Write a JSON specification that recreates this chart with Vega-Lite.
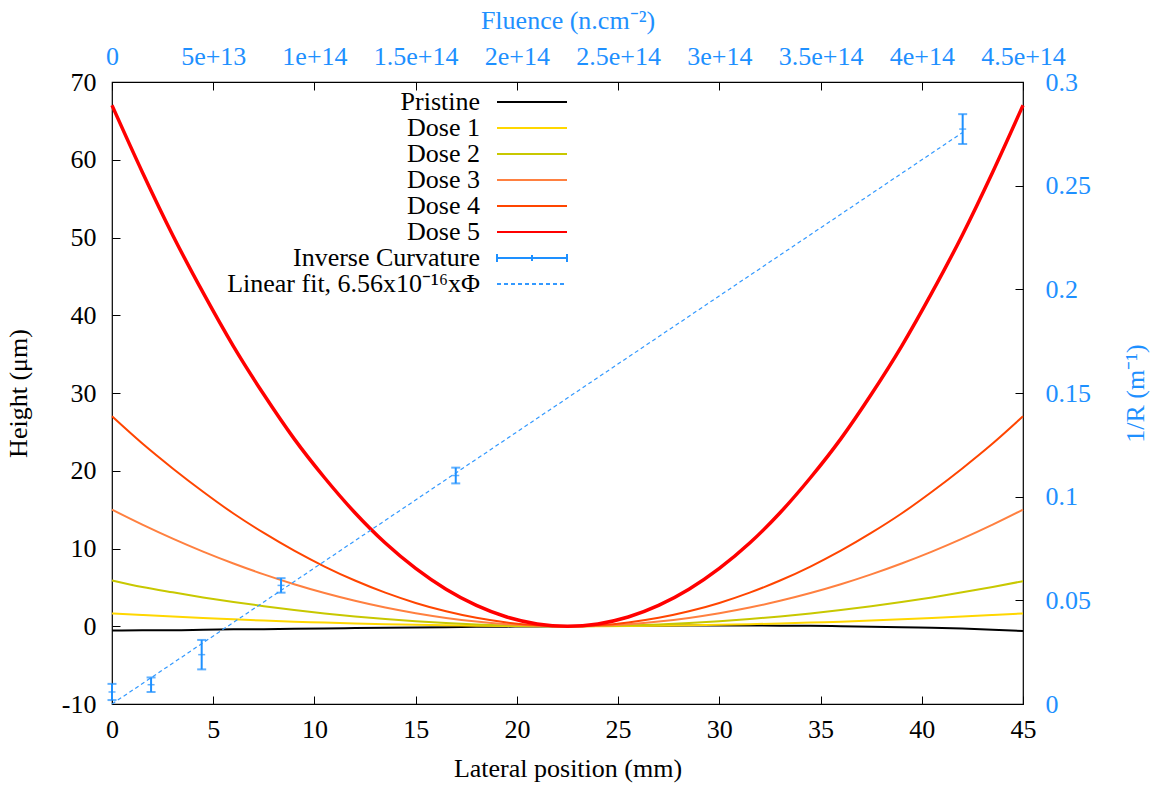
{
  "$schema": "https://vega.github.io/schema/vega-lite/v6.json",
  "width": 911,
  "height": 622,
  "autosize": "none",
  "padding": {"left": 112, "top": 82, "right": 140, "bottom": 83},
  "background": "white",
  "config": {
    "view": {"stroke": "black", "strokeWidth": 1.2},
    "font": "Liberation Serif",
    "axis": {
      "grid": false, "domain": false, "tickColor": "black", "tickSize": -8, "tickWidth": 1, "labelOverlap": false, "labelFlush": false,
      "labelFont": "Liberation Serif", "labelFontSize": 26, "titleFont": "Liberation Serif",
      "titleFontSize": 26, "titleFontWeight": "normal", "labelColor": "black", "titleColor": "black"
    }
  },
  "datasets": {
    "curves": [
      {"s":"Pristine","x":0,"h":-0.55},{"s":"Pristine","x":1.5,"h":-0.5},{"s":"Pristine","x":3,"h":-0.5},{"s":"Pristine","x":4.5,"h":-0.45},{"s":"Pristine","x":6,"h":-0.4},{"s":"Pristine","x":7.5,"h":-0.38},{"s":"Pristine","x":9,"h":-0.33},{"s":"Pristine","x":10.5,"h":-0.28},{"s":"Pristine","x":12,"h":-0.24},{"s":"Pristine","x":13.5,"h":-0.2},{"s":"Pristine","x":15,"h":-0.16},{"s":"Pristine","x":16.5,"h":-0.12},{"s":"Pristine","x":18,"h":-0.08},{"s":"Pristine","x":19.5,"h":-0.05},{"s":"Pristine","x":21,"h":-0.02},{"s":"Pristine","x":22.5,"h":0},{"s":"Pristine","x":24,"h":0.03},{"s":"Pristine","x":25.5,"h":0.05},{"s":"Pristine","x":27,"h":0.07},{"s":"Pristine","x":28.5,"h":0.09},{"s":"Pristine","x":30,"h":0.1},{"s":"Pristine","x":31.5,"h":0.1},{"s":"Pristine","x":33,"h":0.08},{"s":"Pristine","x":34.5,"h":0.05},{"s":"Pristine","x":36,"h":0.01},{"s":"Pristine","x":37.5,"h":-0.05},{"s":"Pristine","x":39,"h":-0.12},{"s":"Pristine","x":40.5,"h":-0.2},{"s":"Pristine","x":42,"h":-0.3},{"s":"Pristine","x":43.5,"h":-0.44},{"s":"Pristine","x":45,"h":-0.6},
      {"s":"Dose 1","x":0,"h":1.65},{"s":"Dose 1","x":1.5,"h":1.44},{"s":"Dose 1","x":3,"h":1.24},{"s":"Dose 1","x":4.5,"h":1.06},{"s":"Dose 1","x":6,"h":0.89},{"s":"Dose 1","x":7.5,"h":0.73},{"s":"Dose 1","x":9,"h":0.59},{"s":"Dose 1","x":10.5,"h":0.47},{"s":"Dose 1","x":12,"h":0.36},{"s":"Dose 1","x":13.5,"h":0.26},{"s":"Dose 1","x":15,"h":0.18},{"s":"Dose 1","x":16.5,"h":0.12},{"s":"Dose 1","x":18,"h":0.07},{"s":"Dose 1","x":19.5,"h":0.03},{"s":"Dose 1","x":21,"h":0.01},{"s":"Dose 1","x":22.5,"h":0},{"s":"Dose 1","x":24,"h":0.01},{"s":"Dose 1","x":25.5,"h":0.03},{"s":"Dose 1","x":27,"h":0.07},{"s":"Dose 1","x":28.5,"h":0.12},{"s":"Dose 1","x":30,"h":0.18},{"s":"Dose 1","x":31.5,"h":0.26},{"s":"Dose 1","x":33,"h":0.36},{"s":"Dose 1","x":34.5,"h":0.47},{"s":"Dose 1","x":36,"h":0.59},{"s":"Dose 1","x":37.5,"h":0.73},{"s":"Dose 1","x":39,"h":0.89},{"s":"Dose 1","x":40.5,"h":1.06},{"s":"Dose 1","x":42,"h":1.24},{"s":"Dose 1","x":43.5,"h":1.44},{"s":"Dose 1","x":45,"h":1.65},
      {"s":"Dose 2","x":0,"h":5.9},{"s":"Dose 2","x":1.5,"h":5.05},{"s":"Dose 2","x":3,"h":4.36},{"s":"Dose 2","x":4.5,"h":3.71},{"s":"Dose 2","x":6,"h":3.12},{"s":"Dose 2","x":7.5,"h":2.58},{"s":"Dose 2","x":9,"h":2.09},{"s":"Dose 2","x":10.5,"h":1.65},{"s":"Dose 2","x":12,"h":1.26},{"s":"Dose 2","x":13.5,"h":0.93},{"s":"Dose 2","x":15,"h":0.64},{"s":"Dose 2","x":16.5,"h":0.41},{"s":"Dose 2","x":18,"h":0.23},{"s":"Dose 2","x":19.5,"h":0.1},{"s":"Dose 2","x":21,"h":0.03},{"s":"Dose 2","x":22.5,"h":0},{"s":"Dose 2","x":24,"h":0.03},{"s":"Dose 2","x":25.5,"h":0.1},{"s":"Dose 2","x":27,"h":0.23},{"s":"Dose 2","x":28.5,"h":0.41},{"s":"Dose 2","x":30,"h":0.64},{"s":"Dose 2","x":31.5,"h":0.93},{"s":"Dose 2","x":33,"h":1.26},{"s":"Dose 2","x":34.5,"h":1.65},{"s":"Dose 2","x":36,"h":2.09},{"s":"Dose 2","x":37.5,"h":2.58},{"s":"Dose 2","x":39,"h":3.12},{"s":"Dose 2","x":40.5,"h":3.71},{"s":"Dose 2","x":42,"h":4.36},{"s":"Dose 2","x":43.5,"h":5.05},{"s":"Dose 2","x":45,"h":5.8},
      {"s":"Dose 3","x":0,"h":15},{"s":"Dose 3","x":1.5,"h":13.07},{"s":"Dose 3","x":3,"h":11.27},{"s":"Dose 3","x":4.5,"h":9.6},{"s":"Dose 3","x":6,"h":8.07},{"s":"Dose 3","x":7.5,"h":6.67},{"s":"Dose 3","x":9,"h":5.4},{"s":"Dose 3","x":10.5,"h":4.27},{"s":"Dose 3","x":12,"h":3.27},{"s":"Dose 3","x":13.5,"h":2.4},{"s":"Dose 3","x":15,"h":1.67},{"s":"Dose 3","x":16.5,"h":1.07},{"s":"Dose 3","x":18,"h":0.6},{"s":"Dose 3","x":19.5,"h":0.27},{"s":"Dose 3","x":21,"h":0.07},{"s":"Dose 3","x":22.5,"h":0},{"s":"Dose 3","x":24,"h":0.07},{"s":"Dose 3","x":25.5,"h":0.27},{"s":"Dose 3","x":27,"h":0.6},{"s":"Dose 3","x":28.5,"h":1.07},{"s":"Dose 3","x":30,"h":1.67},{"s":"Dose 3","x":31.5,"h":2.4},{"s":"Dose 3","x":33,"h":3.27},{"s":"Dose 3","x":34.5,"h":4.27},{"s":"Dose 3","x":36,"h":5.4},{"s":"Dose 3","x":37.5,"h":6.67},{"s":"Dose 3","x":39,"h":8.07},{"s":"Dose 3","x":40.5,"h":9.6},{"s":"Dose 3","x":42,"h":11.27},{"s":"Dose 3","x":43.5,"h":13.07},{"s":"Dose 3","x":45,"h":15},
      {"s":"Dose 4","x":0,"h":27},{"s":"Dose 4","x":1.5,"h":23.5},{"s":"Dose 4","x":3,"h":20.3},{"s":"Dose 4","x":4.5,"h":17.3},{"s":"Dose 4","x":6,"h":14.5},{"s":"Dose 4","x":7.5,"h":12},{"s":"Dose 4","x":9,"h":9.72},{"s":"Dose 4","x":10.5,"h":7.68},{"s":"Dose 4","x":12,"h":5.88},{"s":"Dose 4","x":13.5,"h":4.32},{"s":"Dose 4","x":15,"h":3},{"s":"Dose 4","x":16.5,"h":1.92},{"s":"Dose 4","x":18,"h":1.08},{"s":"Dose 4","x":19.5,"h":0.48},{"s":"Dose 4","x":21,"h":0.12},{"s":"Dose 4","x":22.5,"h":0},{"s":"Dose 4","x":24,"h":0.12},{"s":"Dose 4","x":25.5,"h":0.48},{"s":"Dose 4","x":27,"h":1.08},{"s":"Dose 4","x":28.5,"h":1.92},{"s":"Dose 4","x":30,"h":3},{"s":"Dose 4","x":31.5,"h":4.32},{"s":"Dose 4","x":33,"h":5.88},{"s":"Dose 4","x":34.5,"h":7.68},{"s":"Dose 4","x":36,"h":9.72},{"s":"Dose 4","x":37.5,"h":12},{"s":"Dose 4","x":39,"h":14.5},{"s":"Dose 4","x":40.5,"h":17.3},{"s":"Dose 4","x":42,"h":20.3},{"s":"Dose 4","x":43.5,"h":23.5},{"s":"Dose 4","x":45,"h":27},
      {"s":"Dose 5","x":0,"h":67},{"s":"Dose 5","x":1.5,"h":58.4},{"s":"Dose 5","x":3,"h":50.3},{"s":"Dose 5","x":4.5,"h":42.9},{"s":"Dose 5","x":6,"h":36},{"s":"Dose 5","x":7.5,"h":29.8},{"s":"Dose 5","x":9,"h":24.1},{"s":"Dose 5","x":10.5,"h":19.1},{"s":"Dose 5","x":12,"h":14.6},{"s":"Dose 5","x":13.5,"h":10.7},{"s":"Dose 5","x":15,"h":7.44},{"s":"Dose 5","x":16.5,"h":4.76},{"s":"Dose 5","x":18,"h":2.68},{"s":"Dose 5","x":19.5,"h":1.19},{"s":"Dose 5","x":21,"h":0.3},{"s":"Dose 5","x":22.5,"h":0},{"s":"Dose 5","x":24,"h":0.3},{"s":"Dose 5","x":25.5,"h":1.19},{"s":"Dose 5","x":27,"h":2.68},{"s":"Dose 5","x":28.5,"h":4.76},{"s":"Dose 5","x":30,"h":7.44},{"s":"Dose 5","x":31.5,"h":10.7},{"s":"Dose 5","x":33,"h":14.6},{"s":"Dose 5","x":34.5,"h":19.1},{"s":"Dose 5","x":36,"h":24.1},{"s":"Dose 5","x":37.5,"h":29.8},{"s":"Dose 5","x":39,"h":36},{"s":"Dose 5","x":40.5,"h":42.9},{"s":"Dose 5","x":42,"h":50.3},{"s":"Dose 5","x":43.5,"h":58.4},{"s":"Dose 5","x":45,"h":67}
    ],
    "ic": [
      {"flu": 0, "r": 0.0058, "lo": 0.0019, "hi": 0.0097},
      {"flu": 1.93e13, "r": 0.0093, "lo": 0.0058, "hi": 0.0128},
      {"flu": 4.43e13, "r": 0.0238, "lo": 0.0167, "hi": 0.0309},
      {"flu": 8.35e13, "r": 0.0572, "lo": 0.0537, "hi": 0.0607},
      {"flu": 1.698e14, "r": 0.1102, "lo": 0.1064, "hi": 0.114},
      {"flu": 4.202e14, "r": 0.2773, "lo": 0.2701, "hi": 0.2845}
    ],
    "fit": [
      {"flu": 0, "fit": 0},
      {"flu": 4.202e14, "fit": 0.2757}
    ]
  },
  "layer": [
    {
      "data": {"name": "curves"},
      "mark": {"type": "line", "interpolate": "monotone"},
      "encoding": {
        "x": {"field": "x", "type": "quantitative", "scale": {"domain": [0, 45], "nice": false, "zero": false},
          "axis": {"orient": "bottom", "values": [0,5,10,15,20,25,30,35,40,45], "title": "Lateral position (mm)", "labelPadding": 20, "titlePadding": 13}},
        "y": {"field": "h", "type": "quantitative", "scale": {"domain": [-10, 70], "nice": false, "zero": false},
          "axis": {"orient": "left", "values": [-10,0,10,20,30,40,50,60,70], "title": "Height (μm)", "labelExpr": "'' + datum.value", "labelPadding": 24, "titlePadding": 30}},
        "color": {"field": "s", "type": "nominal",
          "scale": {"domain": ["Pristine","Dose 1","Dose 2","Dose 3","Dose 4","Dose 5","Inverse Curvature","Linear fit, 6.56x10⁻¹⁶xΦ"],
                    "range": ["#000000","#ffd700","#c8c800","#ff8040","#ff4500","#ff0000","#1e90ff","#3399ff"]},
          "legend": {
            "orient": "none", "legendX": 373, "legendY": 7, "title": null, "padding": 0,
            "labelAlign": "right", "labelOffset": -65, "symbolOffset": 34, "symbolSize": 100, "symbolStrokeWidth": 2,
            "labelFont": "Liberation Serif", "labelFontSize": 26, "labelColor": "black", "rowPadding": 0, "labelLimit": 600,
            "encode": {"symbols": {"update": {
              "shape": {"signal": "datum.value === 'Inverse Curvature' ? 'M-7,0H7M-7,-0.8V0.8M7,-0.8V0.8M0,-0.6V0.6' : 'M-7,0H7'"},
              "strokeDash": {"signal": "indexof(datum.value, 'Linear') === 0 ? [4,3] : [100,0]"},
              "stroke": {"scale": "color", "field": "value"},
              "fill": {"value": "transparent"},
              "opacity": {"value": 1}
            }}}
          }},
        "strokeWidth": {"condition": {"test": "datum.s === 'Dose 5'", "value": 3.5}, "value": 2}
      }
    },
    {
      "layer": [
        {
          "data": {"name": "fit"},
          "mark": {"type": "line", "strokeDash": [4, 3], "strokeWidth": 1.2},
          "encoding": {
            "x": {"field": "flu", "type": "quantitative", "scale": {"domain": [0, 4.5e14], "nice": false, "zero": false},
              "axis": {"orient": "top", "values": [0,5e13,1e14,1.5e14,2e14,2.5e14,3e14,3.5e14,4e14,4.5e14], "title": "Fluence (n.cm⁻²)",
                "labelExpr": "datum.value == 0 ? '0' : format(datum.value, '.2~e')", "labelColor": "#1e90ff", "titleColor": "#1e90ff", "labelPadding": 21, "titlePadding": 10}},
            "y": {"field": "fit", "type": "quantitative", "scale": {"domain": [0, 0.3], "nice": false, "zero": false},
              "axis": {"orient": "right", "values": [0,0.05,0.1,0.15,0.2,0.25,0.3], "title": "1/R (m⁻¹)", "format": ".2~f",
                "labelColor": "#1e90ff", "titleColor": "#1e90ff", "labelPadding": 30, "titlePadding": 58, "titleAngle": -90}},
            "color": {"datum": "Linear fit, 6.56x10⁻¹⁶xΦ"}
          }
        },
        {
          "data": {"name": "ic"},
          "mark": {"type": "rule", "strokeWidth": 2},
          "encoding": {
            "x": {"field": "flu", "type": "quantitative", "title": "Fluence (n.cm⁻²)"},
            "y": {"field": "lo", "type": "quantitative", "title": "1/R (m⁻¹)"},
            "y2": {"field": "hi"},
            "color": {"datum": "Inverse Curvature"}
          }
        },
        {
          "data": {"name": "ic"},
          "mark": {"type": "tick", "orient": "horizontal", "size": 9, "thickness": 2},
          "encoding": {
            "x": {"field": "flu", "type": "quantitative", "title": "Fluence (n.cm⁻²)"},
            "y": {"field": "lo", "type": "quantitative", "title": "1/R (m⁻¹)"},
            "color": {"datum": "Inverse Curvature"}
          }
        },
        {
          "data": {"name": "ic"},
          "mark": {"type": "tick", "orient": "horizontal", "size": 9, "thickness": 2},
          "encoding": {
            "x": {"field": "flu", "type": "quantitative", "title": "Fluence (n.cm⁻²)"},
            "y": {"field": "hi", "type": "quantitative", "title": "1/R (m⁻¹)"},
            "color": {"datum": "Inverse Curvature"}
          }
        },
        {
          "data": {"name": "ic"},
          "mark": {"type": "tick", "orient": "horizontal", "size": 7, "thickness": 1.5},
          "encoding": {
            "x": {"field": "flu", "type": "quantitative", "title": "Fluence (n.cm⁻²)"},
            "y": {"field": "r", "type": "quantitative", "title": "1/R (m⁻¹)"},
            "color": {"datum": "Inverse Curvature"}
          }
        }
      ]
    }
  ],
  "resolve": {"scale": {"x": "independent", "y": "independent"}}
}
